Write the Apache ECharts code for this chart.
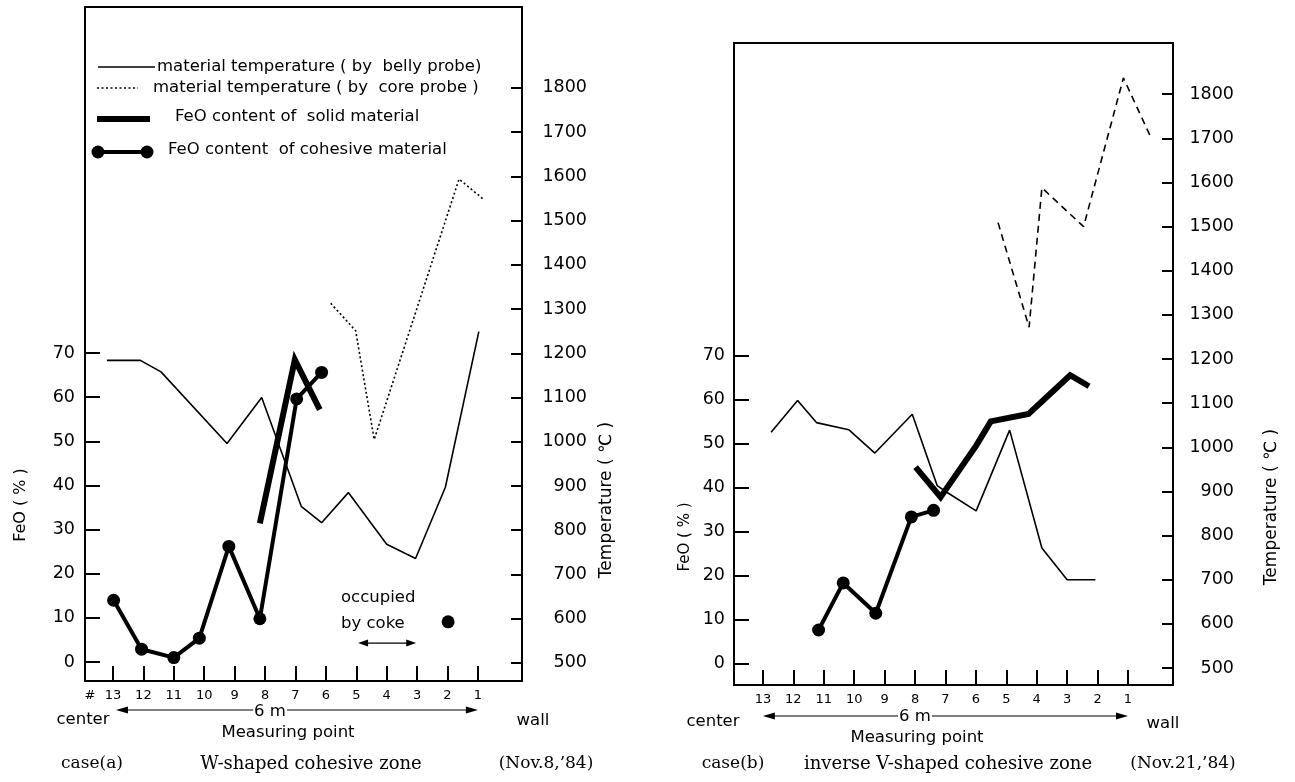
<!DOCTYPE html>
<html>
<head>
<meta charset="utf-8">
<script src="https://cdn.jsdelivr.net/npm/echarts@6.0.0/dist/echarts.min.js"></script>
<style>
  html, body { margin: 0; padding: 0; background: #fff; }
  #chart { width: 1295px; height: 782px; }
</style>
</head>
<body>
<div id="chart"></div>
<script>
// measuring points, FeO and temperature ticks
var pointTicks = [13, 12, 11, 10, 9, 8, 7, 6, 5, 4, 3, 2, 1];
var feoTicks = [0, 10, 20, 30, 40, 50, 60, 70];
var tempTicks = [500, 600, 700, 800, 900, 1000, 1100, 1200, 1300, 1400, 1500, 1600, 1700, 1800];

// case (a)  [measuring point, value]
var bellyA = [[13.2, 1184], [12.1, 1184], [11.42, 1158], [9.25, 996], [8.11, 1100], [6.81, 854], [6.14, 817],
              [5.26, 885], [4.0, 768], [3.05, 736], [2.07, 897], [0.97, 1249]];
var coreA = [[5.84, 1313], [5.02, 1251], [4.41, 1005], [1.62, 1594], [0.83, 1549]];
var solidA = [[8.17, 31.4], [7.02, 68.5], [6.2, 57.2]];
var cohesiveA = [[12.98, 14.0], [12.06, 2.9], [11.0, 1.0], [10.16, 5.4], [9.19, 26.2], [8.17, 9.8], [6.96, 59.6], [6.14, 65.6]];
var cohesiveA2 = [[1.98, 9.1]];

// case (b)
var bellyB = [[12.73, 1034], [11.86, 1106], [11.24, 1056], [10.18, 1040], [9.32, 987], [8.09, 1075], [7.27, 913],
              [7.02, 901], [5.99, 856], [4.89, 1039], [3.83, 772], [3.0, 700], [2.07, 700]];
var coreB = [[5.27, 1509], [4.25, 1272], [3.83, 1588], [2.46, 1500], [1.15, 1837], [0.22, 1698]];
var solidB = [[7.98, 44.7], [7.16, 37.9], [5.99, 49.6], [5.51, 55.1], [4.27, 56.8], [2.9, 65.6], [2.28, 63.1]];
var cohesiveB = [[11.17, 7.7], [10.36, 18.4], [9.29, 11.5], [8.12, 33.4], [7.39, 34.9]];

var SANS = 'DejaVu Sans';
var SERIF = 'DejaVu Serif';

var chart = echarts.init(document.getElementById('chart'));

function plain(v) { return String(v); }

function xAx(gi, min, max) {
    return {
        type: 'value', gridIndex: gi, inverse: true, min: min, max: max,
        axisLine: {show: false, onZero: false}, splitLine: {show: false},
        axisTick: {show: true, inside: true, length: 15, customValues: pointTicks,
                   lineStyle: {color: '#000', width: 2}},
        axisLabel: {show: true, customValues: pointTicks, margin: 8, formatter: plain,
                    fontFamily: SANS, fontSize: 13, color: '#000'}
    };
}
function feoAx(gi, min, max, margin) {
    return {
        type: 'value', gridIndex: gi, position: 'left', min: min, max: max,
        axisLine: {show: false, onZero: false}, splitLine: {show: false},
        axisTick: {show: true, inside: true, length: 15, customValues: feoTicks,
                   lineStyle: {color: '#000', width: 2}},
        axisLabel: {show: true, customValues: feoTicks, margin: margin, formatter: plain,
                    fontFamily: SANS, fontSize: 17.5, color: '#000'}
    };
}
function tempAx(gi, min, max, margin) {
    return {
        type: 'value', gridIndex: gi, position: 'right', min: min, max: max,
        axisLine: {show: false, onZero: false}, splitLine: {show: false},
        axisTick: {show: true, inside: true, length: 11, customValues: tempTicks,
                   lineStyle: {color: '#000', width: 2}},
        axisLabel: {show: true, customValues: tempTicks, margin: margin, align: 'right', formatter: plain,
                    fontFamily: SANS, fontSize: 17.5, color: '#000'}
    };
}
function thin(xi, yi, data, type) {
    return {type: 'line', xAxisIndex: xi, yAxisIndex: yi, data: data, symbol: 'none',
            lineStyle: {color: '#000', width: 1.6, type: type || 'solid'}};
}
function thick(xi, yi, data) {
    return {type: 'line', xAxisIndex: xi, yAxisIndex: yi, data: data, symbol: 'none',
            lineStyle: {color: '#000', width: 6, join: 'miter', cap: 'butt'}};
}
function dotted(xi, yi, data) {
    return {type: 'line', xAxisIndex: xi, yAxisIndex: yi, data: data, symbol: 'circle', symbolSize: 13,
            showAllSymbol: true, itemStyle: {color: '#000', opacity: 1},
            lineStyle: {color: '#000', width: 4}};
}

var option = {
    animation: false,
    backgroundColor: '#fff',
    grid: [
        {left: 85, top: 7, width: 437, height: 674, show: true, borderColor: '#000', borderWidth: 2},
        {left: 734, top: 43, width: 439, height: 642, show: true, borderColor: '#000', borderWidth: 2}
    ],
    xAxis: [xAx(0, -0.45, 13.92), xAx(1, -0.48, 13.95)],
    yAxis: [
        feoAx(0, -4.3, 148.4, 10), tempAx(0, 459, 1983, 65),
        feoAx(1, -4.8, 141.1, 9), tempAx(1, 461.5, 1916, 61)
    ],
    series: [
        thin(0, 1, bellyA),
        thin(0, 1, coreA, [2, 2.5]),
        thick(0, 0, solidA),
        dotted(0, 0, cohesiveA),
        {type: 'scatter', xAxisIndex: 0, yAxisIndex: 0, data: cohesiveA2, symbolSize: 13,
         itemStyle: {color: '#000', opacity: 1}},
        thin(1, 3, bellyB),
        thin(1, 3, coreB, [7, 5]),
        thick(1, 2, solidB),
        dotted(1, 2, cohesiveB)
    ]
};
chart.setOption(option);

// annotations
function txt(x, y, s, font, align, rot) {
    return {type: 'text', x: x, y: y, rotation: rot || 0, z: 10,
            style: {text: s, font: font, fill: '#000', textAlign: align || 'center', textVerticalAlign: 'middle',
                    align: align || 'center', verticalAlign: 'middle'}};
}
function hArrow(x1, x2, y, head, half) {
    return [
        {type: 'line', z: 5, shape: {x1: x1 + head * 0.5, y1: y, x2: x2 - head * 0.5, y2: y}, style: {stroke: '#000', lineWidth: 1.2}},
        {type: 'polygon', z: 5, shape: {points: [[x1, y], [x1 + head, y - half], [x1 + head, y + half]]}, style: {fill: '#000'}},
        {type: 'polygon', z: 5, shape: {points: [[x2, y], [x2 - head, y - half], [x2 - head, y + half]]}, style: {fill: '#000'}}
    ];
}
function xp(ai, v) { return chart.convertToPixel({xAxisIndex: ai}, v); }

var F = '16.5px ' + SANS;
var g = [];
// legend (case a)
g.push({type: 'line', shape: {x1: 98, y1: 67, x2: 155, y2: 67}, style: {stroke: '#000', lineWidth: 1.5}});
g.push({type: 'line', shape: {x1: 97, y1: 88, x2: 138, y2: 88}, style: {stroke: '#000', lineWidth: 1.5, lineDash: [2, 2.5]}});
g.push({type: 'line', shape: {x1: 97, y1: 119, x2: 150, y2: 119}, style: {stroke: '#000', lineWidth: 6}});
g.push({type: 'line', shape: {x1: 98, y1: 152, x2: 147, y2: 152}, style: {stroke: '#000', lineWidth: 4}});
g.push({type: 'circle', shape: {cx: 98, cy: 152, r: 6.5}, style: {fill: '#000'}});
g.push({type: 'circle', shape: {cx: 147, cy: 152, r: 6.5}, style: {fill: '#000'}});
g.push(txt(157, 67, 'material temperature ( by  belly probe)', F, 'left'));
g.push(txt(153, 88, 'material temperature ( by  core probe )', F, 'left'));
g.push(txt(175, 117, 'FeO content of  solid material', F, 'left'));
g.push(txt(168, 150, 'FeO content  of cohesive material', F, 'left'));

// occupied by coke
g.push(txt(341, 598, 'occupied', F, 'left'));
g.push(txt(341, 624, 'by coke', F, 'left'));
var ca = chart.convertToPixel({xAxisIndex: 0, yAxisIndex: 0}, [4.94, 4.3]);
var cb = chart.convertToPixel({xAxisIndex: 0, yAxisIndex: 0}, [3.03, 4.3]);
g = g.concat(hArrow(ca[0], cb[0], ca[1], 10, 3.5));

// axis titles
g.push(txt(21, 505, 'FeO ( % )', '16px ' + SANS, 'center', Math.PI / 2));
g.push(txt(607, 500, 'Temperature ( ℃ )', '17px ' + SANS, 'center', Math.PI / 2));
g.push(txt(685, 537, 'FeO ( % )', '15px ' + SANS, 'center', Math.PI / 2));
g.push(txt(1272, 507, 'Temperature ( ℃ )', '17px ' + SANS, 'center', Math.PI / 2));

// bottom texts case (a)
g.push(txt(90, 696, '#', '13px ' + SANS));
g = g.concat(hArrow(xp(0, 13) + 3, xp(0, 1), 710, 12, 3.5));
g.push(txt(83, 720, 'center', F));
g.push(txt(533, 721, 'wall', F));
var t6a = txt(270, 712, '6 m', F);
t6a.style.backgroundColor = '#fff'; t6a.style.padding = [0, 1];
g.push(t6a);
g.push(txt(288, 733, 'Measuring point', F));
g.push(txt(92, 764, 'case(a)', '17px ' + SERIF));
g.push(txt(311, 764, 'W-shaped cohesive zone', '18px ' + SERIF));
g.push(txt(546, 764, '(Nov.8,\u201984)', '17px ' + SERIF));

// bottom texts case (b)
g = g.concat(hArrow(xp(1, 13), xp(1, 1), 716, 12, 3.5));
g.push(txt(713, 722, 'center', F));
g.push(txt(1163, 724, 'wall', F));
var t6b = txt(915, 717, '6 m', F);
t6b.style.backgroundColor = '#fff'; t6b.style.padding = [0, 1];
g.push(t6b);
g.push(txt(917, 738, 'Measuring point', F));
g.push(txt(733, 764, 'case(b)', '17px ' + SERIF));
g.push(txt(948, 764, 'inverse V-shaped cohesive zone', '18px ' + SERIF));
g.push(txt(1183, 764, '(Nov.21,\u201984)', '17px ' + SERIF));

chart.setOption({graphic: g});
</script>
</body>
</html>
